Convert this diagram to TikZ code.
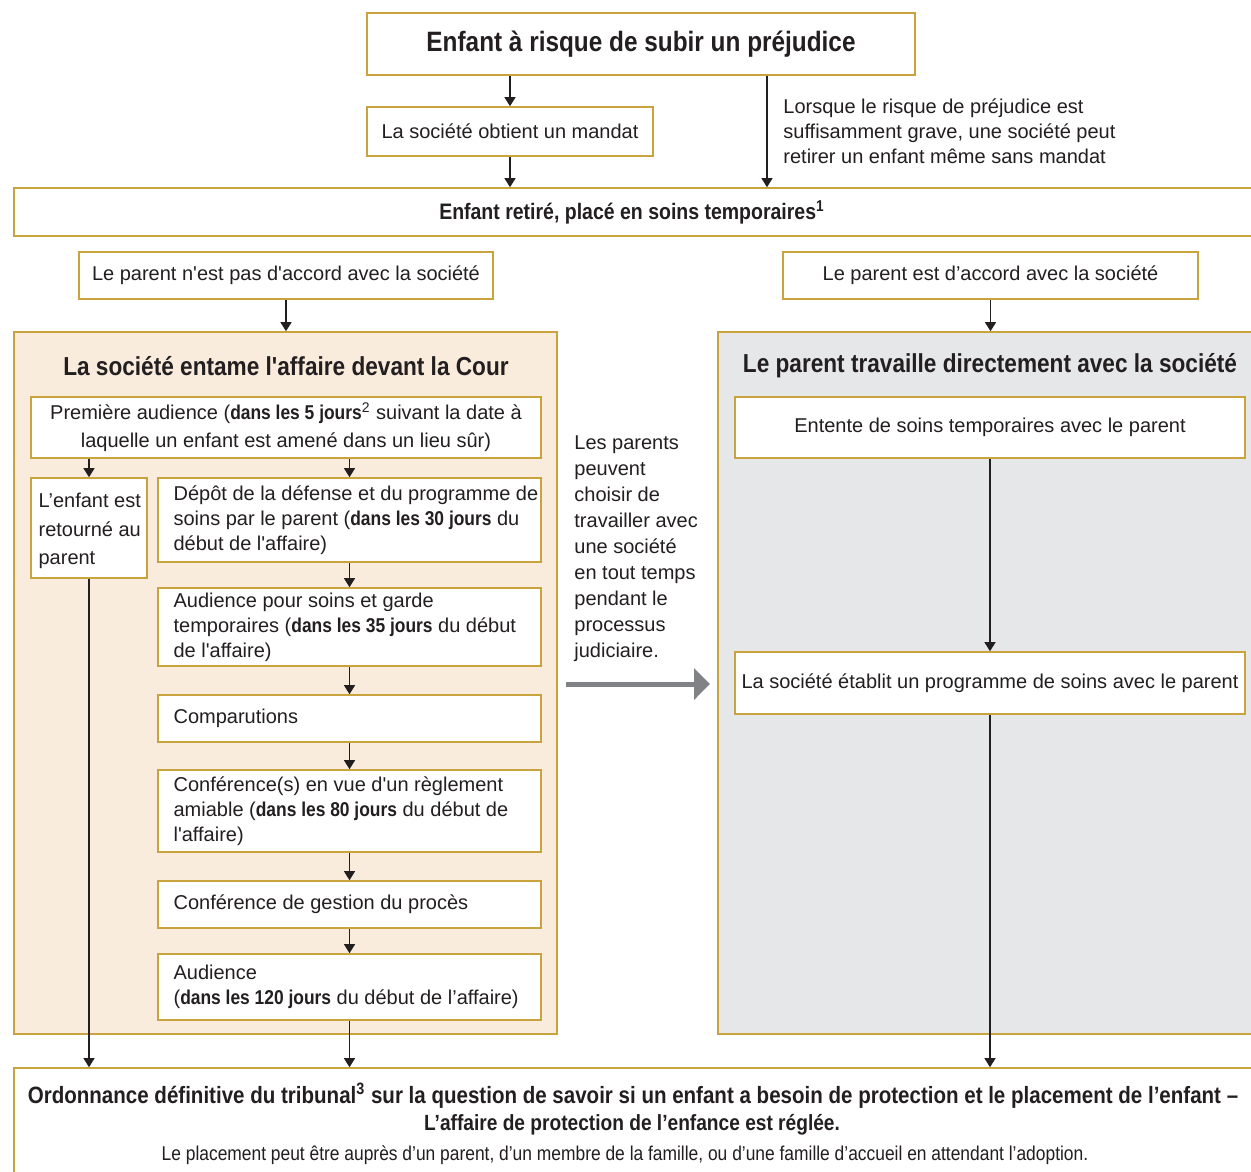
\documentclass[tikz,border=0pt]{standalone}
\usepackage{fontspec}
\setmainfont{Liberation Sans}[Ligatures=TeXOff]
\newfontfamily\cb{Liberation Sans Bold}[FakeStretch=0.87,Ligatures=TeXOff]
\newfontfamily\condreg{Liberation Sans}[FakeStretch=0.87,Ligatures=TeXOff]
\usetikzlibrary{arrows.meta,fit}
\definecolor{gold}{RGB}{201,163,62}
\definecolor{peach}{RGB}{250,236,221}
\definecolor{greybg}{RGB}{230,231,232}
\definecolor{ink}{RGB}{35,31,32}
\definecolor{arrgrey}{RGB}{128,130,133}
\begin{document}
\begin{tikzpicture}[x=0.5pt,y=-0.5pt,
  box/.style={draw=gold,line width=0.8pt,fill=white,inner sep=0pt},
  panel/.style={draw=gold,line width=0.8pt,inner sep=0pt},
  body/.style={inner sep=0pt,text=ink,font=\fontsize{10}{12.5}\selectfont},
  txt/.style={body,align=left},
  ctxt/.style={body,align=center},
  ttl/.style={inner sep=0pt,text=ink},
  arr/.style={draw=ink,line width=0.6pt,-{Triangle[width=5.5pt,length=4.5pt]}},
  bigarr/.style={draw=arrgrey,line width=2.5pt,-{Triangle[width=15.5pt,length=8pt]}}]
\useasboundingbox (0,0) rectangle (1251,1171);
\clip (0,0) rectangle (1251,1171);
\fill[white] (0,0) rectangle (1251,1171);

% top part
\node[box,fit={(367,13)(915,75)}] (top) {};
\node[ttl,font=\cb\fontsize{14}{16}\selectfont] (toptxt) at (top.center) {Enfant à risque de subir un préjudice};
\node[box,fit={(367,107)(653,156)}] (mandat) {};
\node[ctxt] (mandattxt) at (mandat.center) {La société obtient un mandat};
\node[box,fit={(14,188)(1290,236)}] (retire) {};
\node[ttl,font=\cb\fontsize{11.2}{13}\selectfont] (retiretxt) at (632,212) {Enfant retiré, placé en soins temporaires\textsuperscript{1}};
\node[txt,anchor=west] (lorsque) at (783,131) {Lorsque le risque de préjudice est\\suffisamment grave, une société peut\\retirer un enfant même sans mandat};
\coordinate (xR) at (767,0);
\draw[arr] (top.south -| mandat.north) -- (mandat.north);
\draw[arr] (mandat.south) -- (mandat.south |- retire.north);
\draw[arr] (top.south -| xR) -- (retire.north -| xR);

% parent boxes
\node[box,fit={(79,252)(493,299)}] (desaccord) {};
\node[ctxt] (desaccordtxt) at (desaccord.center) {Le parent n'est pas d'accord avec la société};
\node[box,fit={(783,252)(1198,299)}] (accord) {};
\node[ctxt] (accordtxt) at (accord.center) {Le parent est d’accord avec la société};

% panels
\node[panel,fill=peach,fit={(14,332)(557,1034)}] (cour) {};
\node[panel,fill=greybg,fit={(718,332)(1290,1034)}] (direct) {};
\draw[arr] (desaccord.south) -- (desaccord.south |- cour.north);
\draw[arr] (accord.south) -- (accord.south |- direct.north);
\node[ttl,font=\cb\fontsize{13}{15}\selectfont] (courtitle) at (286,366) {La société entame l'affaire devant la Cour};
\node[ttl,font=\cb\fontsize{13}{15}\selectfont] (directtitle) at (990,366) {Le parent travaille directement avec la société};

% court column
\node[box,fit={(31,397)(541,458)}] (premiere) {};
\node[ctxt,font=\fontsize{10}{14}\selectfont] (premieretxt) at (premiere.center) {Première audience ({\cb dans les 5 jours}\textsuperscript{2} suivant la date à\\laquelle un enfant est amené dans un lieu sûr)};
\node[box,fit={(31,478)(147,578)}] (enfant) {};
\node[txt,anchor=west,font=\fontsize{10}{14.3}\selectfont] (enfanttxt) at ([xshift=4pt,yshift=-1.5pt]enfant.west) {L’enfant est\\retourné au\\parent};
\node[box,fit={(158,478)(541,562)}] (depot) {};
\node[txt,anchor=west] (depottxt) at ([xshift=8pt]depot.west) {Dépôt de la défense et du programme de\\soins par le parent ({\cb dans les 30 jours} du\\début de l'affaire)};
\node[box,fit={(158,588)(541,666)}] (soins) {};
\node[txt,anchor=west] (soinstxt) at ([xshift=8pt]soins.west) {Audience pour soins et garde\\temporaires ({\cb dans les 35 jours} du début\\de l'affaire)};
\node[box,fit={(158,695)(541,742)}] (compar) {};
\node[txt,anchor=west] (comparttxt) at ([xshift=8pt]compar.west) {Comparutions};
\node[box,fit={(158,770)(541,852)}] (conf) {};
\node[txt,anchor=west] (conftxt) at ([xshift=8pt]conf.west) {Conférence(s) en vue d'un règlement\\amiable ({\cb dans les 80 jours} du début de\\l'affaire)};
\node[box,fit={(158,881)(541,928)}] (gestion) {};
\node[txt,anchor=west] (gestiontxt) at ([xshift=8pt]gestion.west) {Conférence de gestion du procès};
\node[box,fit={(158,954)(541,1020)}] (audience) {};
\node[txt,anchor=west] (audiencetxt) at ([xshift=8pt]audience.west) {Audience\\({\cb dans les 120 jours} du début de l’affaire)};

\draw[arr] (premiere.south -| enfant.north) -- (enfant.north);
\draw[arr] (premiere.south -| depot.north) -- (depot.north);
\draw[arr] (depot.south) -- (soins.north);
\draw[arr] (soins.south) -- (compar.north);
\draw[arr] (compar.south) -- (conf.north);
\draw[arr] (conf.south) -- (gestion.north);
\draw[arr] (gestion.south) -- (audience.north);

% direct column
\node[box,fit={(735,397)(1245,458)}] (entente) {};
\node[ctxt] (ententetxt) at (entente.center) {Entente de soins temporaires avec le parent};
\node[box,fit={(735,652)(1245,714)}] (etablit) {};
\node[ctxt] (etablittxt) at (etablit.center) {La société établit un programme de soins avec le parent};
\draw[arr] (entente.south) -- (etablit.north);

% middle note and grey arrow
\node[txt,anchor=west,font=\fontsize{10}{13}\selectfont] (note) at (574,549) {Les parents\\peuvent\\choisir de\\travailler avec\\une société\\en tout temps\\pendant le\\processus\\judiciaire.};
\coordinate (ga) at (566,684);
\coordinate (gb) at (710,684);
\draw[bigarr] (ga) -- (gb);

% final box
\node[box,fit={(14,1068)(1290,1200)}] (final) {};
\draw[arr] (enfant.south) -- (enfant.south |- final.north);
\draw[arr] (audience.south) -- (audience.south |- final.north);
\draw[arr] (etablit.south) -- (etablit.south |- final.north);
\node[ttl,font=\cb\fontsize{11.8}{13}\selectfont,anchor=base] (fin1) at (633,1103) {Ordonnance définitive du tribunal\textsuperscript{3} sur la question de savoir si un enfant a besoin de protection et le placement de l’enfant –};
\node[ttl,font=\cb\fontsize{11}{13}\selectfont,anchor=base] (fin2) at (632,1130) {L’affaire de protection de l’enfance est réglée.};
\node[ttl,font=\condreg\fontsize{10}{13}\selectfont,anchor=base] (fin3) at (625,1160) {Le placement peut être auprès d’un parent, d’un membre de la famille, ou d’une famille d’accueil en attendant l’adoption.};
\end{tikzpicture}
\end{document}
